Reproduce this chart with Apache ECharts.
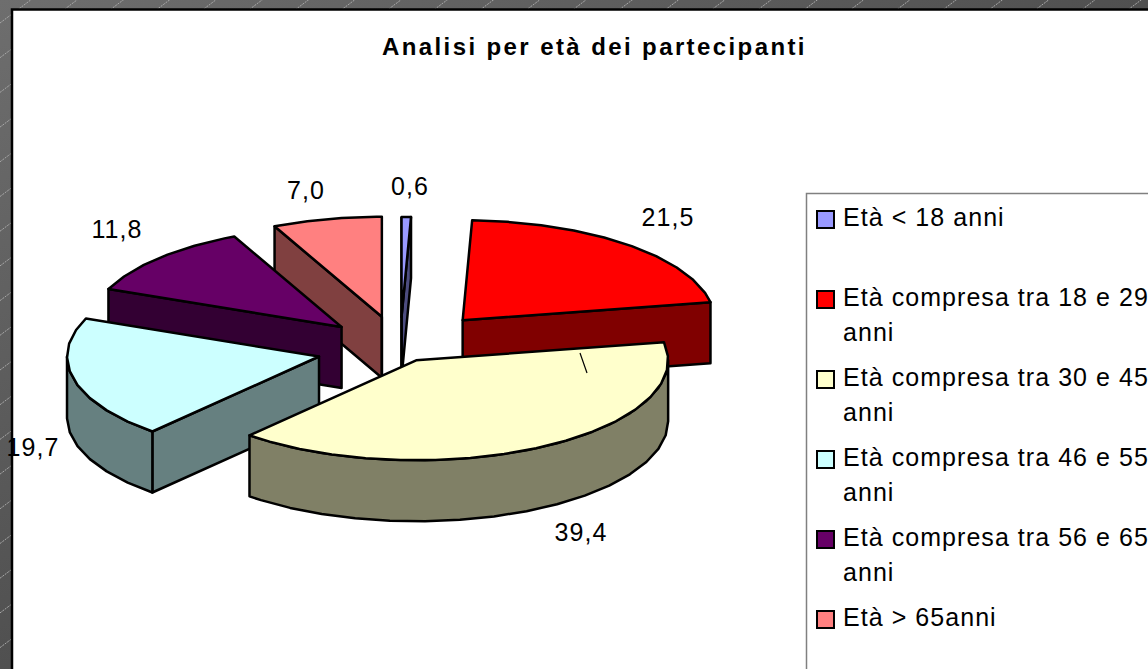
<!DOCTYPE html>
<html>
<head>
<meta charset="utf-8">
<script src="https://cdn.jsdelivr.net/npm/echarts@6/dist/echarts.min.js"></script>
<style>
  html, body { margin: 0; padding: 0; background: #666; overflow: hidden; }
  #main { width: 1148px; height: 669px; }
  /* the original is set with wide letter gaps, canvas text can't do that so we use svg */
  #main text { letter-spacing: 1.05px; }
  #main text[style*="bold"] { letter-spacing: 2.4px; }
</style>
</head>
<body>
<div id="main"></div>
<script>
var titleText = 'Analisi per età dei partecipanti';
var categories = ['Età < 18 anni', 'Età compresa tra 18 e 29\nanni', 'Età compresa tra 30 e 45\nanni', 'Età compresa tra 46 e 55\nanni', 'Età compresa tra 56 e 65\nanni', 'Età > 65anni'];
var values = [0.6, 21.5, 39.4, 19.7, 11.8, 7.0];
var explode = [0.32, 0.38, 0.13, 0.33, 0.32, 0.33];
var topColors = ['#9999FF', '#FF0000', '#FFFFCC', '#CCFFFF', '#660066', '#FF8080'];
var sideColors = ['#4D4D80', '#800000', '#808066', '#668080', '#330033', '#804040'];
var labelPos = [[410, 186], [668, 217], [581, 532], [33, 447], [117, 229], [306, 190]];
// back to front, the slices overlap in this order
var drawOrder = [0, 5, 1, 4, 3, 2];

var cx = 400, cy = 349, rx = 252, ry = 100, depth = 61;
var total = values.reduce(function (a, b) { return a + b; }, 0);

// angles clockwise from 12 o'clock
var starts = [];
values.reduce(function (sum, v, i) { starts[i] = sum / total * 360; return sum + v; }, 0);

function onRim(c, deg) {
  var r = deg * Math.PI / 180;
  return [c[0] + rx * Math.sin(r), c[1] - ry * Math.cos(r)];
}
function down(p) { return [p[0], p[1] + depth]; }

function renderSlice(params, api) {
  var i = api.value(0);
  var a1 = starts[i];
  var a2 = a1 + api.value(1) / total * 360;
  var mid = (a1 + a2) / 2 * Math.PI / 180;
  var apex = [cx + explode[i] * rx * Math.sin(mid), cy - explode[i] * ry * Math.cos(mid)];
  var p1 = onRim(apex, a1), p2 = onRim(apex, a2);
  var line = { stroke: '#000', lineWidth: 2.5, lineJoin: 'round' };
  var kids = [];

  function poly(points, fill) {
    kids.push({ type: 'polygon', shape: { points: points }, style: Object.assign({ fill: fill }, line) });
  }

  // side walls that face the viewer
  if (Math.sin(a2 * Math.PI / 180) > 0.001) poly([apex, p2, down(p2), down(apex)], sideColors[i]);
  if (Math.sin(a1 * Math.PI / 180) < -0.001) poly([apex, p1, down(p1), down(apex)], sideColors[i]);
  if (a2 >= 359.9) kids.push({ type: 'line', shape: { x1: apex[0], y1: apex[1], x2: apex[0], y2: apex[1] + depth }, style: line });
  if (a1 === 0) kids.push({ type: 'line', shape: { x1: apex[0], y1: apex[1] - ry, x2: apex[0], y2: apex[1] + depth }, style: line });

  var from = Math.max(a1, 90), to = Math.min(a2, 270);
  if (to > from) {
    var front = [], back = [];
    for (var d = from; d < to; d += 8) front.push(onRim(apex, d));
    front.push(onRim(apex, to));
    front.forEach(function (p) { back.unshift(down(p)); });
    poly(front.concat(back), sideColors[i]);
  }

  // top face
  var top = [apex];
  for (var t = a1; t < a2; t += 8) top.push(onRim(apex, t));
  top.push(p2);
  poly(top, topColors[i]);

  kids.push({
    type: 'text',
    style: {
      text: api.value(1).toFixed(1).replace('.', ','),
      x: labelPos[i][0], y: labelPos[i][1],
      fill: '#000', font: '25px "Liberation Sans", Arial, sans-serif',
      align: 'center', verticalAlign: 'middle'
    }
  });
  return { type: 'group', children: kids };
}

// slide background: dark gradient with slanted faint lines
var decor = [{
  type: 'rect', shape: { x: 0, y: 0, width: 1148, height: 669 },
  style: {
    fill: {
      type: 'linear', x: 0, y: 0, x2: 1, y2: 1,
      colorStops: [{ offset: 0, color: '#6e6e6e' }, { offset: 0.5, color: '#505050' }, { offset: 1, color: '#3a3a3a' }]
    }
  }
}];
for (var c = 23; c < 1000; c += 34.7) {
  decor.push({
    type: 'line', silent: true,
    shape: { x1: 0, y1: c, x2: 1148, y2: c - 1148 * 0.75 },
    style: { stroke: '#a8a8a8', lineWidth: 1, lineDash: [2, 1] }
  });
}
decor.push({
  type: 'rect', shape: { x: 12, y: 9.5, width: 1200, height: 700 },
  style: { fill: '#fff', stroke: '#000', lineWidth: 2.5 }
});
decor.forEach(function (d) { d.z = -10; });

// legend box, entries are a fixed 80px apart. it runs off the right edge like the original
var legend = [{
  type: 'rect', shape: { x: 806.5, y: 193.5, width: 400, height: 520 },
  style: { fill: '#fff', stroke: '#808080', lineWidth: 1.5 }, z: -5
}];
categories.forEach(function (name, i) {
  var y = 199.5 + i * 80;
  legend.push({
    type: 'rect', shape: { x: 817, y: y + 11.5, width: 17, height: 17 },
    style: { fill: topColors[i], stroke: '#000', lineWidth: 2 }
  });
  legend.push({
    type: 'text', x: 843, y: y,
    style: { text: name, fill: '#000', font: '25px "Liberation Sans", Arial, sans-serif', lineHeight: 35 }
  });
});

// stray leader line left on the yellow slice
var leader = {
  type: 'line', z: 10,
  shape: { x1: 580, y1: 353, x2: 587, y2: 373 },
  style: { stroke: '#000', lineWidth: 1.2 }
};

var chart = echarts.init(document.getElementById('main'), null, { renderer: 'svg' });
chart.setOption({
  backgroundColor: '#666666',
  animation: false,
  title: {
    text: titleText, left: 377, top: 29,
    textStyle: { fontFamily: '"Liberation Sans", Arial, sans-serif', fontSize: 24, fontWeight: 'bold', color: '#000' }
  },
  tooltip: { show: false },
  xAxis: { show: false, min: 0, max: 1 },
  yAxis: { show: false, min: 0, max: 1 },
  grid: { left: 0, right: 0, top: 0, bottom: 0 },
  graphic: decor.concat(legend, [leader]),
  series: [{
    type: 'custom',
    clip: false,
    renderItem: renderSlice,
    encode: { x: -1, y: -1 },
    data: drawOrder.map(function (i) { return [i, values[i]]; })
  }]
});
</script>
</body>
</html>
